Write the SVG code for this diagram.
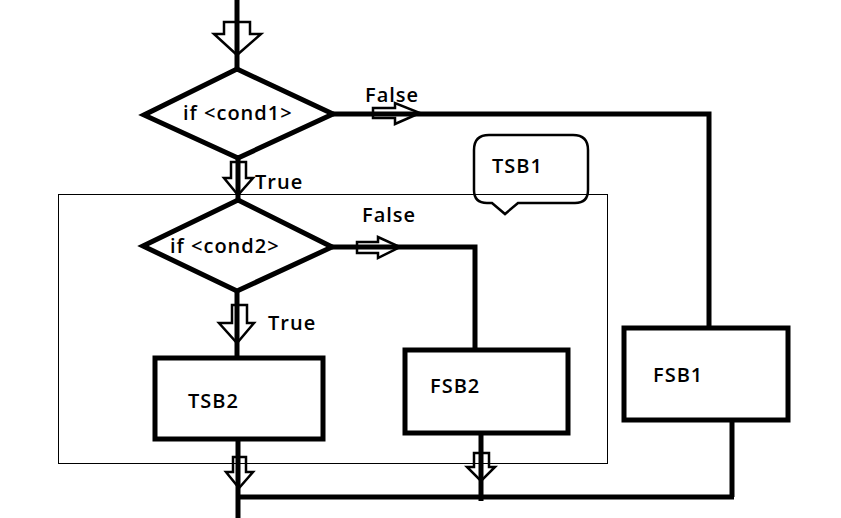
<svg xmlns="http://www.w3.org/2000/svg" width="841" height="518" viewBox="0 0 841 518">
<style>
.t{font-family:"Open Sans","Liberation Sans",sans-serif;font-size:20px;font-weight:600;fill:#000;letter-spacing:1px}
.shape{fill:#fff;stroke:#000;stroke-width:5;stroke-linejoin:miter}
.line{fill:none;stroke:#000;stroke-width:5}
.arr{fill:none;stroke:#000;stroke-width:2.5;stroke-linejoin:miter}
.thin{fill:none;stroke:#000;stroke-width:1}
.call{fill:none;stroke:#000;stroke-width:2.5}
</style>
<rect width="841" height="518" fill="#fff"/>
<g id="tsb1-region">
<rect class="thin" x="58.5" y="194.5" width="549" height="269"/>
</g>
<g id="connectors">
<path class="line" d="M237,0 V69"/>
<path class="line" d="M238,158 V202"/>
<path class="line" d="M333,114 H709 V328"/>
<path class="line" d="M332,247 H475 V350"/>
<path class="line" d="M237,291 V358"/>
<path class="line" d="M238,439 V518"/>
<path class="line" d="M481,433 V501"/>
<path class="line" d="M732,420 V497"/>
<path class="line" d="M238,497 H734"/>
<polygon class="arr" points="224,22 250,22 250,34 261,34 237,55 214,34 224,34"/>
<polygon class="arr" points="231,162 246,162 246,178 253,178 238,195 224,178 231,178"/>
<polygon class="arr" points="232,305 247,305 247,323 254,323 237,343 219,323 232,323"/>
<polygon class="arr" points="373,108 395,108 395,103 420,113 395,124 395,118 373,118"/>
<polygon class="arr" points="357,242 378,242 378,237 400,247 378,258 378,253 357,253"/>
<polygon class="arr" points="233,457 246,457 246,472 253,472 239,488 226,472 233,472"/>
<polygon class="arr" points="474,453 489,453 489,467 495,467 481,481 467,467 474,467"/>
<text class="t" x="365" y="102">False</text>
<text class="t" x="255" y="189">True</text>
<text class="t" x="362" y="222">False</text>
<text class="t" x="268" y="330">True</text>
</g>
<g id="cond1">
<polygon class="shape" points="237,69 333,114 238,158 144,115"/>
<text class="t" x="183" y="120">if &lt;cond1&gt;</text>
</g>
<g id="cond2">
<polygon class="shape" points="238,200 332,247 237,291 143,246"/>
<text class="t" x="170" y="253">if &lt;cond2&gt;</text>
</g>
<g id="tsb2">
<rect class="shape" x="155" y="358" width="168" height="81"/>
<text class="t" x="188" y="408">TSB2</text>
</g>
<g id="fsb2">
<rect class="shape" x="405" y="350" width="163" height="83"/>
<text class="t" x="430" y="393">FSB2</text>
</g>
<g id="fsb1">
<rect class="shape" x="624" y="328" width="164" height="92"/>
<text class="t" x="653" y="382">FSB1</text>
</g>
<g id="tsb1">
<path class="call" d="M489,135 H573 Q588,135 588,150 V190 Q588,203 575,203 H518 L505,214 L492,203 H487 Q474,203 474,190 V150 Q474,135 489,135 Z"/>
<text class="t" x="492" y="173">TSB1</text>
</g>
</svg>
